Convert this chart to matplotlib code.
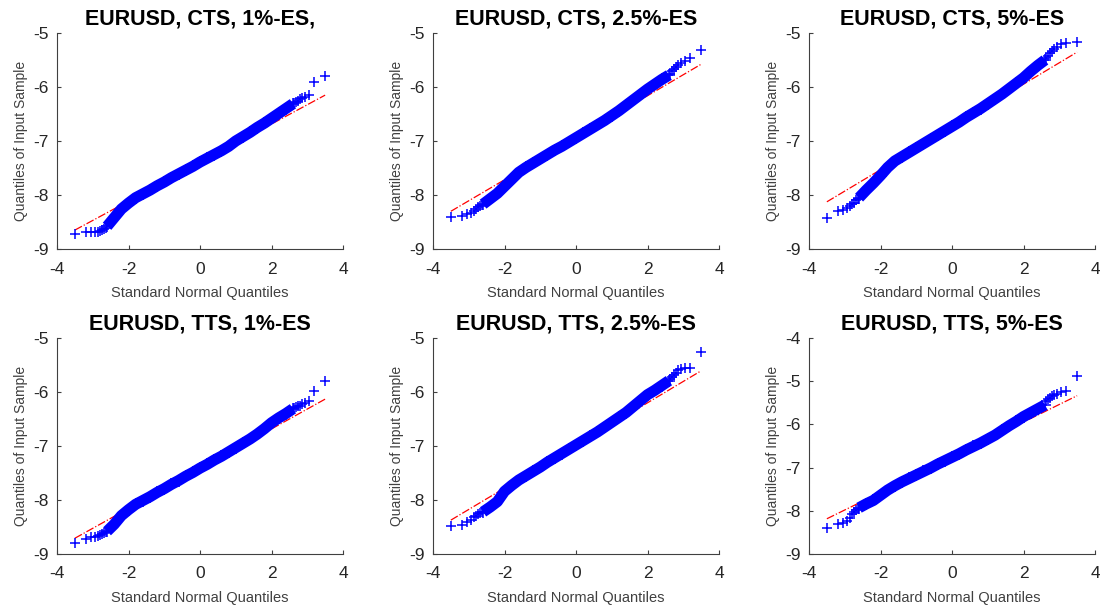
import numpy as np
import matplotlib
matplotlib.use("Agg")
import matplotlib.pyplot as plt

plt.rcParams['font.family'] = ['Liberation Sans', 'DejaVu Sans']
plt.rcParams['axes.unicode_minus'] = False

titles = ["EURUSD, CTS, 1%-ES,", "EURUSD, CTS, 2.5%-ES", "EURUSD, CTS, 5%-ES",
          "EURUSD, TTS, 1%-ES", "EURUSD, TTS, 2.5%-ES", "EURUSD, TTS, 5%-ES"]
y_limits = [(-9, -5), (-9, -5), (-9, -5), (-9, -5), (-9, -5), (-9, -4)]

# theoretical (standard normal) quantiles: sparse tails + body grid
tail_lo_x = [-3.50, -3.20, -3.05, -2.94, -2.86, -2.79, -2.73, -2.68, -2.63]
body_x = [-2.6, -2.4, -2.2, -2.0, -1.8, -1.6, -1.4, -1.2, -1.0, -0.8, -0.6, -0.4, -0.2,
          0.0, 0.2, 0.4, 0.6, 0.8, 1.0, 1.2, 1.4, 1.6, 1.8, 2.0, 2.2, 2.4, 2.6]
tail_hi_x = [2.63, 2.68, 2.73, 2.79, 2.86, 2.94, 3.05, 3.20, 3.50]

# sample quantiles
cts1_lo = [-8.73, -8.69, -8.69, -8.69, -8.68, -8.67, -8.65, -8.63, -8.61]
cts1_body = [-8.58, -8.42, -8.26, -8.15, -8.05, -7.98, -7.91, -7.83, -7.76, -7.68, -7.61, -7.54, -7.47,
             -7.39, -7.32, -7.25, -7.18, -7.10, -7.00, -6.92, -6.84, -6.75, -6.67, -6.58, -6.49, -6.40, -6.31]
cts1_hi = [-6.30, -6.27, -6.25, -6.23, -6.20, -6.18, -6.15, -5.91, -5.80]

cts25_lo = [-8.41, -8.38, -8.36, -8.33, -8.29, -8.26, -8.23, -8.21, -8.19]
cts25_body = [-8.17, -8.07, -7.97, -7.84, -7.71, -7.58, -7.49, -7.41, -7.33, -7.25, -7.17, -7.10, -7.02,
              -6.94, -6.86, -6.78, -6.70, -6.62, -6.53, -6.44, -6.34, -6.24, -6.14, -6.04, -5.95, -5.86, -5.78]
cts25_hi = [-5.75, -5.71, -5.67, -5.63, -5.59, -5.56, -5.51, -5.46, -5.31]

cts5_lo = [-8.43, -8.30, -8.27, -8.24, -8.21, -8.17, -8.14, -8.10, -8.07]
cts5_body = [-8.05, -7.91, -7.78, -7.64, -7.49, -7.37, -7.29, -7.21, -7.13, -7.05, -6.97, -6.89, -6.81,
             -6.73, -6.65, -6.56, -6.48, -6.40, -6.31, -6.22, -6.13, -6.03, -5.93, -5.83, -5.71, -5.60, -5.50]
cts5_hi = [-5.46, -5.42, -5.37, -5.33, -5.29, -5.25, -5.21, -5.19, -5.16]

tts1_lo = [-8.80, -8.72, -8.69, -8.68, -8.67, -8.65, -8.63, -8.61, -8.60]
tts1_body = [-8.58, -8.45, -8.29, -8.18, -8.08, -8.01, -7.94, -7.86, -7.79, -7.71, -7.64, -7.56, -7.49,
             -7.41, -7.34, -7.26, -7.19, -7.11, -7.03, -6.95, -6.87, -6.78, -6.68, -6.57, -6.48, -6.40, -6.31]
tts1_hi = [-6.30, -6.28, -6.26, -6.25, -6.23, -6.21, -6.17, -5.98, -5.80]

tts25_lo = [-8.48, -8.46, -8.40, -8.37, -8.32, -8.29, -8.26, -8.24, -8.22]
tts25_body = [-8.22, -8.13, -8.03, -7.84, -7.73, -7.63, -7.55, -7.47, -7.39, -7.30, -7.22, -7.14, -7.06,
              -6.98, -6.90, -6.82, -6.74, -6.65, -6.56, -6.47, -6.38, -6.27, -6.16, -6.05, -5.97, -5.88, -5.79]
tts25_hi = [-5.76, -5.72, -5.68, -5.64, -5.60, -5.57, -5.56, -5.55, -5.25]

tts5_lo = [-8.39, -8.31, -8.29, -8.23, -8.16, -8.08, -8.02, -7.98, -7.95]
tts5_body = [-7.93, -7.84, -7.76, -7.64, -7.52, -7.42, -7.33, -7.25, -7.17, -7.09, -7.01, -6.92, -6.84,
             -6.76, -6.68, -6.59, -6.51, -6.43, -6.34, -6.25, -6.14, -6.03, -5.93, -5.82, -5.73, -5.64, -5.55]
tts5_hi = [-5.45, -5.41, -5.38, -5.35, -5.32, -5.29, -5.26, -5.22, -4.88]

# reference line (through 1st/3rd quartiles): value at x=0 and slope
ref_mid = [-7.40, -6.94, -6.74, -7.42, -6.99, -6.76]
ref_slope = [0.357, 0.389, 0.396, 0.368, 0.395, 0.407]

lows = [cts1_lo, cts25_lo, cts5_lo, tts1_lo, tts25_lo, tts5_lo]
bodies = [cts1_body, cts25_body, cts5_body, tts1_body, tts25_body, tts5_body]
highs = [cts1_hi, cts25_hi, cts5_hi, tts1_hi, tts25_hi, tts5_hi]

fig = plt.figure(figsize=(11, 6.05), dpi=100)

W, H = 1100, 605
lefts = [57, 433, 809]
tops = [33, 338]
aw, ah = 286, 216

axis_col = '#404040'

for i in range(6):
    r, c = divmod(i, 3)
    ax = fig.add_axes([lefts[c] / W, (H - tops[r] - ah) / H, aw / W, ah / H])

    # reference line over the data range
    xr = np.array([tail_lo_x[0], tail_hi_x[-1]])
    ax.plot(xr, ref_mid[i] + ref_slope[i] * xr, color='red', ls='-.', lw=0.9, zorder=1)

    # dense body of the sample
    ax.plot(body_x, bodies[i], color='blue', lw=8, solid_capstyle='butt', zorder=2)
    ax.plot(body_x, bodies[i], ls='none', marker='+', color='blue', ms=8.5, mew=1.1, zorder=2)
    ax.plot(tail_lo_x, lows[i], ls='none', marker='+', color='blue', ms=7.5, mew=1.1, zorder=2)
    ax.plot(tail_hi_x, highs[i], ls='none', marker='+', color='blue', ms=7.5, mew=1.1, zorder=2)

    ax.set_xlim(-4, 4)
    ax.set_ylim(*y_limits[i])
    ax.set_xticks([-4, -2, 0, 2, 4])
    ax.set_yticks(np.arange(y_limits[i][0], y_limits[i][1] + 1))
    ax.spines['top'].set_visible(False)
    ax.spines['right'].set_visible(False)
    for s in ['left', 'bottom']:
        ax.spines[s].set_color(axis_col)
        ax.spines[s].set_linewidth(0.8)
    ax.tick_params(direction='in', length=3, width=0.8, color=axis_col,
                   labelsize=12.5, labelcolor='#262626')
    ax.tick_params(axis='x', pad=9)
    ax.tick_params(axis='y', pad=6)
    ax.set_xlabel("Standard Normal Quantiles", fontsize=10.5, color='#404040', labelpad=7)
    ax.set_ylabel("Quantiles of Input Sample", fontsize=10, color='#404040', labelpad=4)
    ax.set_title(titles[i], fontsize=15.5, fontweight='bold', pad=6)

fig.savefig("out.png", dpi=100)
